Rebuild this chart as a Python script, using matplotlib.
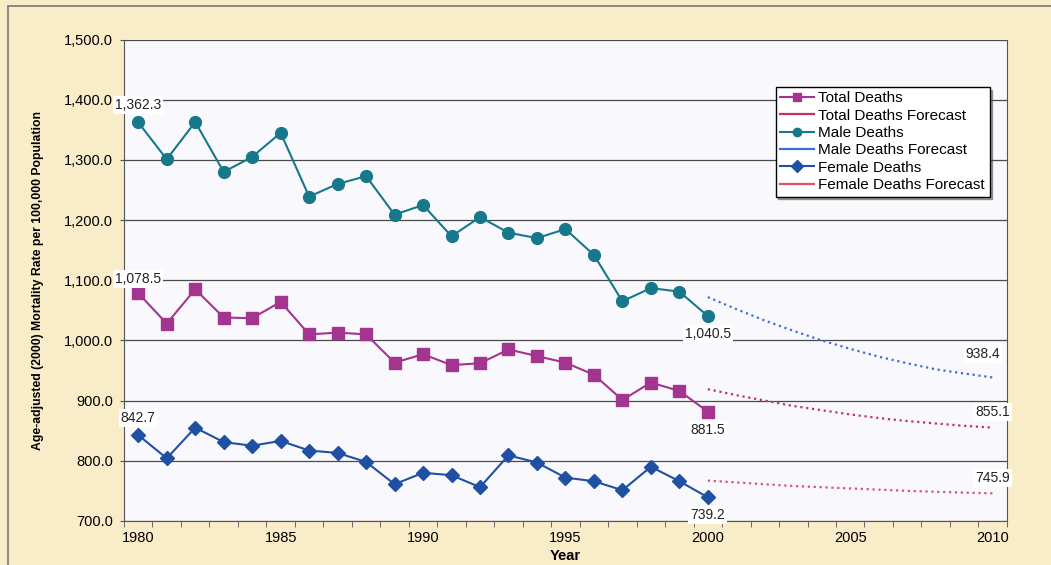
import numpy as np
import matplotlib
matplotlib.use("Agg")
from matplotlib import pyplot as plt
from matplotlib.ticker import FuncFormatter, FixedLocator

plt.rcParams['font.family'] = ['Liberation Sans', 'DejaVu Sans']

years = list(range(1980, 2001))
male = [1362.3, 1301, 1363, 1280, 1305, 1345, 1239, 1260, 1273, 1209, 1225,
        1173, 1205, 1179, 1170, 1185, 1142, 1065, 1087, 1081, 1040.5]
total = [1078.5, 1028, 1085, 1038, 1037, 1064, 1010, 1013, 1010, 963, 977,
         959, 962, 985, 974, 963, 943, 901, 930, 916, 881.5]
female = [842.7, 804, 855, 831, 825, 833, 817, 813, 798, 761, 780,
          776, 756, 809, 797, 772, 766, 751, 790, 766, 739.2]

fc_years = list(range(2000, 2011))
male_fc = [1072, 1052, 1033, 1016, 1000, 986, 973, 962, 952, 945, 938.4]
total_fc = [919, 909, 900, 891, 884, 877, 871, 866, 862, 858, 855.1]
female_fc = [767, 764, 761, 758, 756, 754, 752, 750, 748.5, 747, 745.9]

c_total = '#a3348f'
c_male = '#16788a'
c_female = '#1f50a3'

fig = plt.figure(figsize=(10.51, 5.65), dpi=100)
fig.patch.set_facecolor('#f8ecc9')
# thin border around chart area
fig.add_artist(plt.Rectangle((0.008, -0.01), 1.1, 0.999, transform=fig.transFigure,
                             fill=False, edgecolor='#777777', linewidth=1.2))

ax = fig.add_axes([0.118, 0.078, 0.840, 0.852])
ax.set_facecolor('#f9f9fd')

ax.plot(years, total, '-s', color=c_total, markersize=8, linewidth=1.5,
        label='Total Deaths', zorder=3)
ax.plot(fc_years, total_fc, ':', color='#c2306c', linewidth=1.6,
        label='Total Deaths Forecast', zorder=3)
ax.plot(years, male, '-o', color=c_male, markersize=8.5, linewidth=1.5,
        label='Male Deaths', zorder=3)
ax.plot(fc_years, male_fc, ':', color='#3b70d2', linewidth=1.6,
        label='Male Deaths Forecast', zorder=3)
ax.plot(years, female, '-D', color=c_female, markersize=7, linewidth=1.5,
        label='Female Deaths', zorder=3)
ax.plot(fc_years, female_fc, ':', color='#e0506e', linewidth=1.6,
        label='Female Deaths Forecast', zorder=3)

ax.set_xlim(1979.5, 2010.5)
ax.set_ylim(700, 1500)
ax.yaxis.set_major_locator(FixedLocator(np.arange(700, 1501, 100)))
ax.yaxis.set_major_formatter(FuncFormatter(lambda v, p: f"{v:,.1f}"))
ax.set_xticks(range(1980, 2011, 5))
ax.set_xticks(np.arange(1979.5, 2011, 1), minor=True)
ax.tick_params(axis='x', which='major', length=0, labelsize=10.5, pad=7)
ax.tick_params(axis='x', which='minor', length=4, direction='out', color='#555555')
ax.tick_params(axis='y', length=3, labelsize=10.5, color='#555555', pad=5)
ax.grid(axis='y', color='#4a4a4a', linewidth=0.9, zorder=1)
ax.set_axisbelow(True)
for s in ['left', 'bottom', 'right']:
    ax.spines[s].set_color('#555555')
ax.spines['top'].set_visible(False)

ax.set_xlabel('Year', fontsize=10.5, fontweight='bold', labelpad=3)
ax.set_ylabel('Age-adjusted (2000) Mortality Rate per 100,000 Population',
              fontsize=8.8, fontweight='bold', labelpad=14)

box = dict(facecolor='white', edgecolor='none', pad=1.5)
labels = [
    (years[0], male[0], f"{male[0]:,.1f}", 0, 12.5),
    (years[0], total[0], f"{total[0]:,.1f}", 0, 10),
    (years[0], female[0], f"{female[0]:,.1f}", 0, 12),
    (years[-1], male[-1], f"{male[-1]:,.1f}", 0, -13),
    (years[-1], total[-1], f"{total[-1]:,.1f}", 0, -13),
    (years[-1], female[-1], f"{female[-1]:,.1f}", 0, -12.5),
    (fc_years[-1], male_fc[-1], f"{male_fc[-1]:,.1f}", -7, 17),
    (fc_years[-1], total_fc[-1], f"{total_fc[-1]:,.1f}", 0, 11.5),
    (fc_years[-1], female_fc[-1], f"{female_fc[-1]:,.1f}", 0, 11),
]
for x, y, t, dx, dy in labels:
    ax.annotate(t, (x, y), xytext=(dx, dy), textcoords='offset points',
                ha='center', va='center', fontsize=10, color='#222222',
                bbox=box, zorder=5)

leg = ax.legend(loc='upper left', bbox_to_anchor=(0.738, 0.902), fontsize=11,
                frameon=True, fancybox=False, shadow=True, handlelength=2.2,
                labelspacing=0.22, borderpad=0.3, handletextpad=0.3,
                borderaxespad=0)
leg.get_frame().set_edgecolor('black')
leg.get_frame().set_linewidth(1.0)
for h in leg.legend_handles:
    h.set_linestyle('-')
    h.set_markersize(6)

fig.savefig('out.png', dpi=100, facecolor=fig.get_facecolor())
